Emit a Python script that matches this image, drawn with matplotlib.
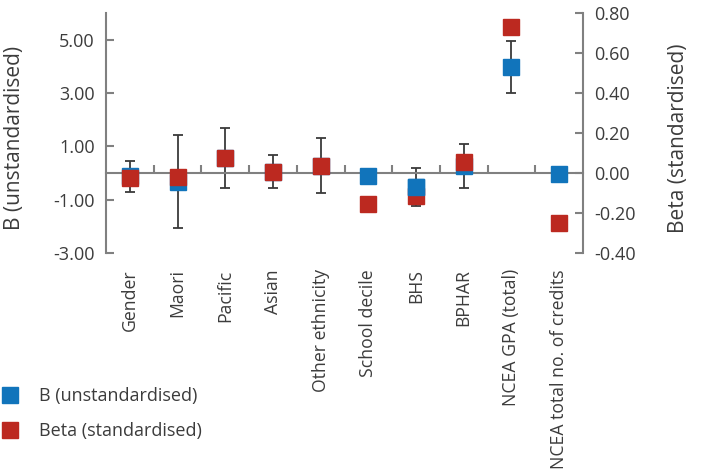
"""Regression coefficients (B with 95% CI, and standardised beta) per predictor."""
import matplotlib.pyplot as plt
import matplotlib.transforms as mtransforms
import numpy as np
from matplotlib.lines import Line2D

plt.rcParams["font.family"] = ["Open Sans", "DejaVu Sans"]

categories = [
    "Gender", "Maori", "Pacific", "Asian", "Other ethnicity", "School decile",
    "BHS", "BPHAR", "NCEA GPA (total)", "NCEA total no. of credits",
]
b_values = [-0.13, -0.32, 0.56, 0.05, 0.27, -0.10, -0.52, 0.27, 3.97, -0.04]
b_ci_low = [-0.71, -2.06, -0.56, -0.56, -0.75, np.nan, -1.24, -0.55, 2.99, np.nan]
b_ci_high = [0.45, 1.42, 1.69, 0.67, 1.31, np.nan, 0.20, 1.09, 4.96, np.nan]
beta_values = [-0.027, -0.02, 0.075, 0.005, 0.035, -0.155, -0.115, 0.053, 0.73, -0.25]
blue_on_top = ["BHS"]  # where the B marker covers the beta marker

left_ticks = [-3, -1, 1, 3, 5]
right_ticks = [-0.4, -0.2, 0.0, 0.2, 0.4, 0.6, 0.8]

BLUE = "#1174bb"
RED = "#bc2920"
GREY = "#808080"
TEXT = "#3c3c3c"

fig = plt.figure(figsize=(7.03, 4.74), dpi=100)
ax = fig.add_axes([106 / 703, 1 - 253 / 474, 477 / 703, 240 / 474])
ax2 = ax.twinx()

x = np.arange(len(categories))
b = np.array(b_values)
lo = np.array(b_ci_low)
hi = np.array(b_ci_high)
has_ci = ~np.isnan(lo)

# error bars on B
ax.errorbar(x[has_ci], b[has_ci], yerr=[b[has_ci] - lo[has_ci], hi[has_ci] - b[has_ci]],
            fmt="none", ecolor="#3a3a3a", elinewidth=1.3, capsize=3.5, capthick=1.3, zorder=2)
ax.plot(x, b, "s", color=BLUE, markersize=11.5, linestyle="none", zorder=3)
ax2.plot(x, beta_values, "s", color=RED, markersize=11.5, linestyle="none", zorder=3)
# redraw B markers that sit above beta markers
top = [i for i, c in enumerate(categories) if c in blue_on_top]
ax2.plot(x[top], b[top], "s", color=BLUE, markersize=11.5, linestyle="none", zorder=4,
         transform=ax.transData)

ax.set_xlim(-0.5, len(categories) - 0.5)
ax.set_ylim(-3, 6)
ax2.set_ylim(-0.4, 0.8)
ax.set_yticks(left_ticks)
ax.set_yticklabels([f"{v:.2f}" for v in left_ticks])
ax2.set_yticks(right_ticks)
ax2.set_yticklabels([f"{v:.2f}" for v in right_ticks])

# zero line with category separators
ax.spines["bottom"].set_position(("data", 0))
ax.set_xticks(np.arange(len(categories) - 1) + 0.5)
ax.set_xticklabels([])
for a in (ax, ax2):
    a.spines["top"].set_visible(False)
ax.spines["right"].set_visible(False)
ax2.spines["left"].set_visible(False)
ax2.spines["bottom"].set_visible(False)
for sp in ("left", "bottom"):
    ax.spines[sp].set_color(GREY)
    ax.spines[sp].set_linewidth(1.5)
ax2.spines["right"].set_color(GREY)
ax2.spines["right"].set_linewidth(1.5)

ax.tick_params(axis="x", direction="in", length=6, width=1.5, color=GREY)
ax.tick_params(axis="y", direction="in", length=6, width=1.5, color=GREY,
               labelsize=13, labelcolor=TEXT, pad=8)
ax2.tick_params(axis="y", direction="in", length=6, width=1.5, color=GREY,
                labelsize=13, labelcolor=TEXT, pad=8)

trans = mtransforms.blended_transform_factory(ax.transData, ax.transAxes)
for xi, name in zip(x, categories):
    ax.text(xi, -0.068, name, transform=trans, rotation=90, ha="center", va="top",
            fontsize=12.7, color=TEXT)

ax.set_ylabel("B (unstandardised)", fontsize=15, color=TEXT)
ax.yaxis.set_label_coords(-0.17, 0.48)
ax2.set_ylabel("Beta (standardised)", fontsize=15, color=TEXT)
ax2.yaxis.set_label_coords(1.178, 0.48)

handles = [
    Line2D([], [], marker="s", color=BLUE, linestyle="none", markersize=11),
    Line2D([], [], marker="s", color=RED, linestyle="none", markersize=11),
]
fig.legend(handles, ["B (unstandardised)", "Beta (standardised)"], loc="upper left",
           bbox_to_anchor=(-0.022, 1 - 371 / 474), frameon=False, fontsize=13,
           labelcolor=TEXT, handletextpad=1.1, labelspacing=0.95, handlelength=1.0)

fig.savefig("out.png", dpi=100)
